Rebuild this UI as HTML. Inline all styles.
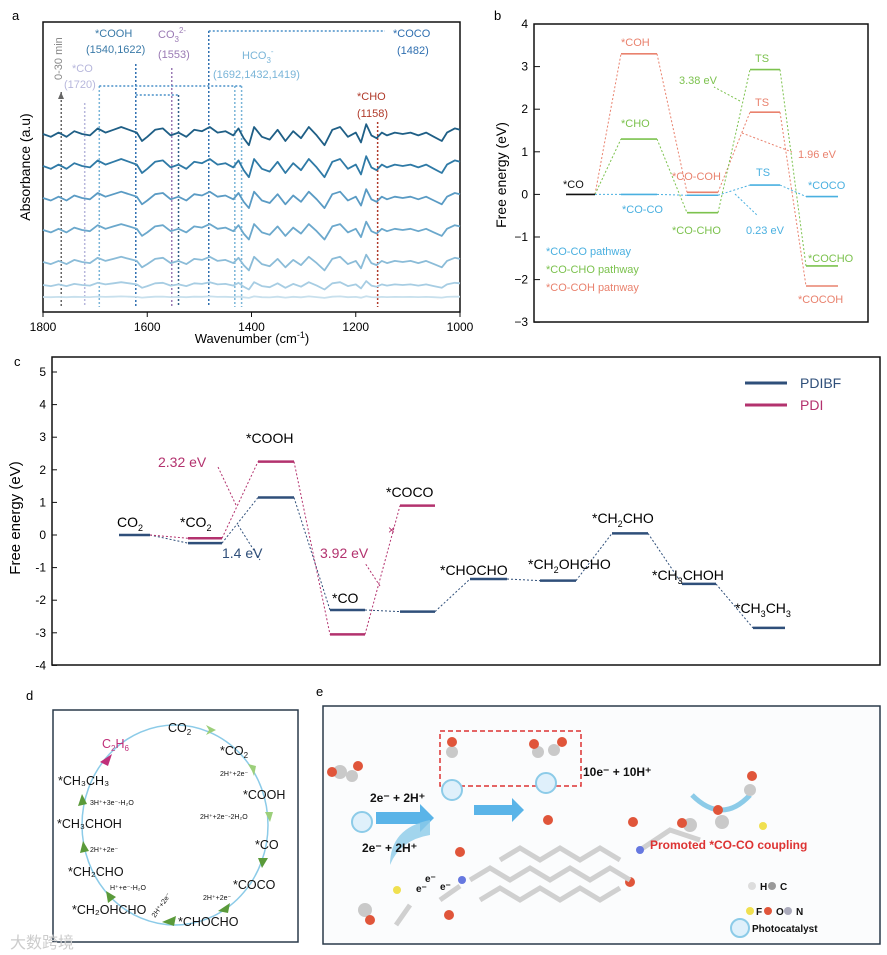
<!DOCTYPE html>
<html><head><meta charset="utf-8"><style>
body{margin:0;background:#fff}
svg{display:block;font-family:"Liberation Sans","Noto Sans CJK SC",sans-serif}
</style></head><body>
<svg id="s" width="887" height="955" viewBox="0 0 887 955">
<!-- Panel a -->
<g id="pa">
<text x="12" y="20" font-size="13">a</text>
<rect x="43" y="22" width="417" height="290" fill="none" stroke="#111" stroke-width="1.5"/>
<g id="pa-ticks"></g>
<text x="252" y="343" font-size="13" text-anchor="middle">Wavenumber (cm<tspan font-size="9" dy="-5">-1</tspan><tspan dy="5">)</tspan></text>
<text transform="translate(30,167) rotate(-90)" font-size="14" text-anchor="middle">Absorbance (a.u)</text>
<g id="pa-lines"></g>
<g id="pa-traces"></g>
<g font-size="11">
<text x="95" y="37" fill="#3a7aa8">*COOH</text>
<text x="86" y="53" fill="#3a7aa8">(1540,1622)</text>
<text x="158" y="38" fill="#9a7ab4">CO<tspan font-size="8" dy="4">3</tspan><tspan font-size="8" dy="-9">2-</tspan></text>
<text x="158" y="58" fill="#9a7ab4">(1553)</text>
<text x="72" y="72" fill="#b7b7dc">*CO</text>
<text x="64" y="88" fill="#b7b7dc">(1720)</text>
<text x="242" y="59" fill="#7ab5d8">HCO<tspan font-size="8" dy="4">3</tspan><tspan font-size="8" dy="-9">-</tspan></text>
<text x="213" y="78" fill="#7ab5d8">(1692,1432,1419)</text>
<text x="393" y="37" fill="#2f6fb0">*COCO</text>
<text x="397" y="54" fill="#2f6fb0">(1482)</text>
<text x="357" y="100" fill="#b03a2a">*CHO</text>
<text x="357" y="117" fill="#b03a2a">(1158)</text>
<text transform="translate(62,80) rotate(-90)" fill="#888" font-size="11">0-30 min</text>
</g>
</g>
<!-- Panel b -->
<g id="pb">
<text x="494" y="20" font-size="13">b</text>
<rect x="534" y="24" width="334" height="298" fill="none" stroke="#111" stroke-width="1.5"/>
<g id="pb-ticks"></g>
<text transform="translate(506,175) rotate(-90)" font-size="14" text-anchor="middle">Free energy (eV)</text>
<g id="pb-marks"></g>
<g font-size="11">
<text x="563" y="188" fill="#111">*CO</text>
<text x="621" y="46" fill="#e9826e">*COH</text>
<text x="621" y="127" fill="#7cc24e">*CHO</text>
<text x="672" y="180" fill="#e9826e">*CO-COH</text>
<text x="622" y="213" fill="#4ab0e0">*CO-CO</text>
<text x="672" y="234" fill="#7cc24e">*CO-CHO</text>
<text x="755" y="62" fill="#7cc24e">TS</text>
<text x="755" y="106" fill="#e9826e">TS</text>
<text x="756" y="176" fill="#4ab0e0">TS</text>
<text x="679" y="84" fill="#7cc24e">3.38 eV</text>
<text x="798" y="158" fill="#e9826e">1.96 eV</text>
<text x="746" y="234" fill="#4ab0e0">0.23 eV</text>
<text x="808" y="189" fill="#4ab0e0">*COCO</text>
<text x="808" y="262" fill="#7cc24e">*COCHO</text>
<text x="798" y="303" fill="#e9826e">*COCOH</text>
<text x="546" y="255" fill="#4ab0e0">*CO-CO pathway</text>
<text x="546" y="273" fill="#7cc24e">*CO-CHO pathway</text>
<text x="546" y="291" fill="#e9826e">*CO-COH patnway</text>
</g>
<g stroke-dasharray="2,2" fill="none" stroke-width="1">
<path d="M740 101 L714 87" stroke="#7cc24e"/><path d="M742 133 L792 152" stroke="#e9826e"/><path d="M735 194 L758 216" stroke="#4ab0e0"/>
</g>
</g>
<!-- Panel c -->
<g id="pc">
<text x="14" y="366" font-size="13">c</text>
<rect x="52" y="357" width="828" height="308" fill="none" stroke="#111" stroke-width="1.5"/>
<g id="pc-ticks"></g>
<text transform="translate(20,518) rotate(-90)" font-size="15" text-anchor="middle">Free energy (eV)</text>
<g id="pc-marks"></g>
<line x1="745" y1="383" x2="787" y2="383" stroke="#2f4f7a" stroke-width="3"/>
<text x="800" y="388" font-size="14" fill="#2f4f7a">PDIBF</text>
<line x1="745" y1="405" x2="787" y2="405" stroke="#b3326e" stroke-width="3"/>
<text x="800" y="410" font-size="14" fill="#b3326e">PDI</text>
<g font-size="14">
<text x="117" y="527">CO<tspan font-size="9" dy="4">2</tspan></text>
<text x="180" y="527">*CO<tspan font-size="9" dy="4">2</tspan></text>
<text x="246" y="443">*COOH</text>
<text x="386" y="497">*COCO</text>
<text x="332" y="603">*CO</text>
<text x="440" y="575">*CHOCHO</text>
<text x="528" y="569">*CH<tspan font-size="9" dy="4">2</tspan><tspan dy="-4">OHCHO</tspan></text>
<text x="592" y="523">*CH<tspan font-size="9" dy="4">2</tspan><tspan dy="-4">CHO</tspan></text>
<text x="652" y="580">*CH<tspan font-size="9" dy="4">3</tspan><tspan dy="-4">CHOH</tspan></text>
<text x="735" y="613">*CH<tspan font-size="9" dy="4">3</tspan><tspan dy="-4">CH</tspan><tspan font-size="9" dy="4">3</tspan></text>
<text x="158" y="467" fill="#b3326e">2.32 eV</text>
<text x="222" y="558" fill="#2f4f7a">1.4 eV</text>
<text x="320" y="558" fill="#b3326e">3.92 eV</text>
<text x="388" y="534" fill="#b3326e" font-size="12">×</text>
</g>
<g stroke-dasharray="2,2" fill="none">
<path d="M236 505 L218 467" stroke="#b3326e"/><path d="M238 525 L260 560" stroke="#2f4f7a"/><path d="M380 586 L365 563" stroke="#b3326e"/>
</g>
</g>
<!-- Panel d -->
<g id="pd">
<text x="26" y="700" font-size="13">d</text>
<rect x="53" y="710" width="245" height="232" fill="#fff" stroke="#2a3a4a" stroke-width="1.5"/>
<ellipse cx="175" cy="825" rx="93" ry="100" fill="none" stroke="#8ccbe8" stroke-width="1.5"/>
<g font-size="12.5" fill="#111">
<text x="168" y="732">CO<tspan font-size="8" dy="3">2</tspan></text>
<text x="102" y="748" fill="#c0307a">C<tspan font-size="8" dy="3">2</tspan><tspan dy="-3">H</tspan><tspan font-size="8" dy="3">6</tspan></text>
<text x="220" y="755">*CO<tspan font-size="8" dy="3">2</tspan></text>
<text x="220" y="776" font-size="7">2H⁺+2e⁻</text>
<text x="243" y="799">*COOH</text>
<text x="200" y="819" font-size="7">2H⁺+2e⁻-2H₂O</text>
<text x="255" y="849">*CO</text>
<text x="233" y="889">*COCO</text>
<text x="203" y="900" font-size="7">2H⁺+2e⁻</text>
<text x="178" y="926">*CHOCHO</text>
<text x="72" y="914">*CH₂OHCHO</text>
<text x="68" y="876">*CH₂CHO</text>
<text x="110" y="890" font-size="7">H⁺+e⁻-H₂O</text>
<text x="57" y="828">*CH₃CHOH</text>
<text x="90" y="852" font-size="7">2H⁺+2e⁻</text>
<text x="58" y="785">*CH₃CH₃</text>
<text x="90" y="805" font-size="7">3H⁺+3e⁻-H₂O</text>
<text x="0" y="0" font-size="7" transform="translate(155,918) rotate(-55)">2H⁺+2e⁻</text>
</g>
<g fill="#5a9a3a"><path d="M206 725 l10 5 -10 5 3 -5z" fill="#9ccf7a"/><path d="M248 764 l8 2 -2 10 -2 -5z" fill="#9ccf7a"/><path d="M265 812 l8 0 -3 10z" fill="#9ccf7a"/><path d="M258 858 l10 0 -6 10z"/><path d="M230 903 l-2 10 -10 -2z"/><path d="M176 916 l-2 10 -12 -4z"/><path d="M108 903 l-2 -12 10 6z"/><path d="M80 853 l3 -12 6 10z"/><path d="M78 806 l4 -12 5 10z"/></g>
<path d="M100 762 l12 -8 -4 12z" fill="#c0307a"/>
<text x="10" y="948" font-size="16" fill="#ccc">大数跨境</text>
</g>
<!-- Panel e -->
<g id="pe">
<text x="316" y="696" font-size="13">e</text>
<rect x="323" y="706" width="557" height="238" fill="#fbfcfd" stroke="#2a3a4a" stroke-width="1.5"/>
<rect x="440" y="731" width="141" height="55" fill="none" stroke="#d33" stroke-width="1.5" stroke-dasharray="5,3"/>
<g fill="#dff0fb" stroke="#8ccbe8" stroke-width="2">
<circle cx="362" cy="822" r="10"/><circle cx="452" cy="790" r="10"/><circle cx="546" cy="783" r="10"/><circle cx="740" cy="928" r="9"/></g>
<g fill="#5ab4e8"><path d="M376 812 h44 v-8 l14 14 -14 14 v-8 h-44z"/><path d="M474 805 h38 v-7 l12 12 -12 12 v-7 h-38z"/></g>
<path d="M430 820 q-40 8 -40 45 q10 -25 40 -30z" fill="#8ccbe8" opacity="0.8"/>
<path d="M692 795 q30 30 58 0" fill="none" stroke="#8ccbe8" stroke-width="5"/>
<g fill="#c9c9c9"><circle cx="340" cy="772" r="7"/><circle cx="352" cy="776" r="6"/><circle cx="452" cy="752" r="6"/><circle cx="538" cy="752" r="6"/><circle cx="554" cy="750" r="6"/><circle cx="750" cy="790" r="6"/><circle cx="690" cy="825" r="7"/><circle cx="722" cy="822" r="7"/><circle cx="365" cy="910" r="7"/></g>
<g fill="#e0553a"><circle cx="332" cy="772" r="5"/><circle cx="358" cy="766" r="5"/><circle cx="452" cy="742" r="5"/><circle cx="534" cy="744" r="5"/><circle cx="562" cy="742" r="5"/><circle cx="752" cy="776" r="5"/><circle cx="682" cy="823" r="5"/><circle cx="718" cy="810" r="5"/><circle cx="370" cy="920" r="5"/><circle cx="548" cy="820" r="5"/><circle cx="633" cy="822" r="5"/><circle cx="460" cy="852" r="5"/><circle cx="630" cy="882" r="5"/><circle cx="449" cy="915" r="5"/></g>
<g fill="none" stroke="#d0d0d0" stroke-width="5">
<path d="M470 880 l20 -12 20 12 20 -12 20 12 20 -12 20 12 20 -12 20 12 M480 900 l20 -12 20 12 20 -12 20 12 20 -12 20 12 20 -12 M500 860 l20 -12 20 12 20 -12 20 12 20 -12 20 12 M440 900 l20 -14 M410 905 l-14 20 M640 850 l30 -20 30 10"/>
</g>
<circle cx="462" cy="880" r="4" fill="#6678e0"/><circle cx="640" cy="850" r="4" fill="#6678e0"/><circle cx="397" cy="890" r="4" fill="#f0e050"/><circle cx="763" cy="826" r="4" fill="#f0e050"/>
<g font-size="12" font-weight="bold" fill="#111">
<text x="370" y="802">2e⁻ + 2H⁺</text><text x="583" y="776">10e⁻ + 10H⁺</text><text x="362" y="852">2e⁻ + 2H⁺</text>
<text x="425" y="882" font-size="10">e⁻</text><text x="416" y="892" font-size="10">e⁻</text><text x="440" y="890" font-size="10">e⁻</text>
<text x="650" y="849" fill="#d33">Promoted *CO-CO coupling</text>
<text x="760" y="890" font-size="10">H</text><text x="780" y="890" font-size="10">C</text>
<text x="756" y="915" font-size="10">F</text><text x="776" y="915" font-size="10">O</text><text x="796" y="915" font-size="10">N</text>
<text x="752" y="932" font-size="10">Photocatalyst</text></g>
<g><circle cx="752" cy="886" r="4" fill="#ddd"/><circle cx="772" cy="886" r="4" fill="#999"/><circle cx="750" cy="911" r="4" fill="#f0e050"/><circle cx="768" cy="911" r="4" fill="#e0553a"/><circle cx="788" cy="911" r="4" fill="#aab"/></g>
</g>
</svg>
<script>
var NS='http://www.w3.org/2000/svg';
function mk(p,t,a){var e=document.createElementNS(NS,t);for(var k in a)e.setAttribute(k,a[k]);p.appendChild(e);return e;}
// ---------- Panel a data ----------
var aTicks=[1800,1600,1400,1200,1000];
var aPeaks=[1765,1720,1692,1622,1553,1540,1482,1432,1419,1158];
var aPeakTops=[92,103,86,64,68,95,31,86,86,122];
var aPeakColors=['#666','#b7b7dc','#7ab5d8','#2f6fb0','#9a7ab4','#2f5f86','#2f6fb0','#7ab5d8','#7ab5d8','#b03a2a'];
var aWave=[1800,1785,1770,1755,1740,1725,1710,1695,1680,1665,1650,1635,1620,1610,1600,1585,1570,1555,1540,1525,1510,1495,1480,1465,1450,1435,1425,1415,1405,1395,1380,1365,1350,1335,1320,1305,1290,1275,1260,1245,1230,1215,1200,1190,1180,1170,1160,1150,1140,1125,1110,1095,1080,1065,1050,1035,1025,1010,1000];
var aShape=[0,-2,1,-2,2,0,-1,4,1,3,5,3,1,-5,-2,3,4,-1,1,-2,3,2,5,1,2,-1,4,-3,-8,5,-2,-4,3,-5,2,-3,5,-1,-8,3,5,-2,1,-6,7,-1,-3,1,-1,1,0,1,-1,1,-2,-5,1,4,3];
var aBase=[134,166,198,230,262,285,297];
var aAmp=[1,1,0.9,0.85,0.75,0.4,0.08];
var aColors=['#1f5f86','#2f7aa6','#5a9bc4','#6ba8cc','#8bbcd8','#a7cde3','#c8e0ed'];
function ax(w){return 43+(1800-w)/800*417;}
var g=document.getElementById('pa-ticks');
aTicks.forEach(function(t){var x=ax(t);
 var l=mk(g,'line',{x1:x,y1:312,x2:x,y2:317,stroke:'#111'});
 
 
 var tx=mk(g,'text',{x:x,y:331,'font-size':12,'text-anchor':'middle'});tx.textContent=t;
 
 });
var gl=document.getElementById('pa-lines');
aPeaks.forEach(function(w,i){var x=ax(w);
 var l=mk(gl,'line',{x1:x,y1:aPeakTops[i],x2:x,y2:307,stroke:aPeakColors[i],'stroke-width':1.5,'stroke-dasharray':'2,2'});
 
 });
mk(gl,'path',{d:'M'+ax(1692)+' 86 H'+ax(1419)+' M'+ax(1622)+' 95 H'+ax(1540)+' M'+ax(1482)+' 31 H385',stroke:'#4a90c8','stroke-width':1.5,'stroke-dasharray':'2,2',fill:'none'});
mk(gl,'path',{d:'M61 92 l-3 7 h6z',fill:'#666'});
var gt=document.getElementById('pa-traces');
aBase.forEach(function(b,j){var d='';aWave.forEach(function(w,i){d+=(i?'L':'M')+ax(w).toFixed(1)+' '+(b-aShape[i]*aAmp[j]*1.4).toFixed(1);});
 var p=mk(gt,'path',{d:d,fill:'none',stroke:aColors[j],'stroke-width':1.8,'stroke-linejoin':'round'});
 
 });
// ---------- Panel b data ----------
var bTicks=[4,3,2,1,0,-1,-2,-3];
var bSlots=[[566,595],[621,657],[687,718],[750,780],[806,838]];
var bRed=[0,3.3,0.05,1.93,-2.15];
var bGreen=[0,1.3,-0.43,2.93,-1.68];
var bBlue=[0,0,-0.02,0.22,-0.05];
function by(v){return 194.4-v*42.6;}
var gb=document.getElementById('pb-ticks');
bTicks.forEach(function(t){var y=by(t);
 mk(gb,'line',{x1:534,y1:y,x2:540,y2:y,stroke:'#111'});
 var tx=mk(gb,'text',{x:528,y:y+4,'font-size':12,'text-anchor':'end'});tx.textContent=t<0?'\u2212'+(-t):t;
 
 });
var gm=document.getElementById('pb-marks');
function profile(g,vals,col,name,start,sx,yf,w){
 for(var i=start;i<vals.length;i++){var y=yf(vals[i]);
  var l=mk(g,'line',{x1:sx[i][0],y1:y,x2:sx[i][1],y2:y,stroke:col,'stroke-width':w});
  
  
  if(i>0){var c=mk(g,'line',{x1:sx[i-1][1],y1:yf(vals[i-1]),x2:sx[i][0],y2:y,stroke:col,'stroke-width':1,'stroke-dasharray':'2,2'});
   
   }}}
profile(gm,bRed,'#e9826e','coh-pathway',1,bSlots,by,1.6);
profile(gm,bGreen,'#7cc24e','cho-pathway',1,bSlots,by,1.6);
profile(gm,bBlue,'#4ab0e0','coco-pathway',1,bSlots,by,1.6);
mk(gm,'line',{x1:566,y1:by(0),x2:595,y2:by(0),stroke:'#111','stroke-width':1.6});
// ---------- Panel c data ----------
var cTicks=[5,4,3,2,1,0,-1,-2,-3,-4];
var cSteps=['CO2','*CO2','*COOH','*CO','*CO-2','*CHOCHO','*CH2OHCHO','*CH2CHO','*CH3CHOH','*CH3CH3'];
var cPDIBF=[0,-0.25,1.15,-2.3,-2.35,-1.35,-1.4,0.05,-1.5,-2.85];
var cPDI=[0,-0.1,2.25,-3.05,0.9];
var cSlots=[[119,150],[188,222],[258,294],[330,365],[400,435],[470,507],[540,576],[612,648],[682,716],[753,785]];
function cy(v){return 535-v*32.6;}
var gc=document.getElementById('pc-ticks');
cTicks.forEach(function(t){var y=cy(t);
 mk(gc,'line',{x1:52,y1:y,x2:57,y2:y,stroke:'#111'});
 var tx=mk(gc,'text',{x:46,y:y+4,'font-size':12,'text-anchor':'end'});tx.textContent=t;
 
 });
var gcm=document.getElementById('pc-marks');
profile(gcm,cPDIBF,'#2f4f7a','pdibf',0,cSlots,cy,2.5);
profile(gcm,cPDI,'#b3326e','pdi',1,cSlots,cy,2.5);
</script>
</body></html>
